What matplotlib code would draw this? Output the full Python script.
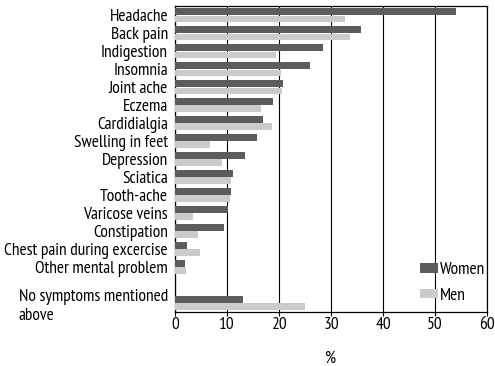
import numpy as np
import matplotlib
matplotlib.use("Agg")
import matplotlib.pyplot as plt

plt.rcParams['font.family'] = ['PT Sans Narrow', 'DejaVu Sans']

# symptoms, top to bottom
labels = ["Headache", "Back pain", "Indigestion", "Insomnia", "Joint ache",
          "Eczema", "Cardidialgia", "Swelling in feet", "Depression",
          "Sciatica", "Tooth-ache", "Varicose veins", "Constipation",
          "Chest pain during excercise", "Other mental problem",
          "No symptoms mentioned\nabove"]
women = [54, 35.8, 28.5, 26.0, 20.8, 18.9, 16.9, 15.8, 13.4,
         11.1, 10.8, 10.1, 9.4, 2.4, 1.9, 13.0]
men = [32.7, 33.6, 19.4, 20.3, 20.6, 16.6, 18.6, 6.8, 9.1,
       10.7, 10.6, 3.5, 4.4, 4.9, 2.1, 25.0]

# gap before the last group
pos = np.array(list(range(15)) + [16], dtype=float)
h = 0.38
fs = 12.5

fig = plt.figure(figsize=(4.95, 3.66), dpi=100)
ax = fig.add_axes([175/495, 1-311.5/366, 312/495, (311.5-6)/366])

ax.barh(pos - h/2 - 0.01, women, height=h, color='#5c5c5c', label='Women', zorder=3)
ax.barh(pos + h/2 + 0.01, men, height=h, color='#cbcbcb', label='Men', zorder=3)

ax.set_xlim(0, 60)
ax.set_ylim(16.46, -0.52)
ax.set_xticks(range(0, 61, 10))
ax.set_yticks(pos)
ax.set_yticklabels(labels, fontsize=fs)
ax.get_yticklabels()[-1].set_multialignment('left')
ax.tick_params(axis='y', length=0, pad=5)
ax.tick_params(axis='x', labelsize=fs, length=3, pad=1, width=0.8)
ax.grid(axis='x', color='black', linewidth=0.8, zorder=1)
for s in ax.spines.values():
    s.set_linewidth(0.9)
ax.set_xlabel('%', fontsize=fs, labelpad=13)

leg = ax.legend(loc='lower right', bbox_to_anchor=(1.015, 0.003), frameon=False,
                fontsize=fs, handlelength=1.0, handleheight=0.45,
                handletextpad=0.1, labelspacing=0.55, borderaxespad=0)

fig.savefig('out.png', dpi=100)
